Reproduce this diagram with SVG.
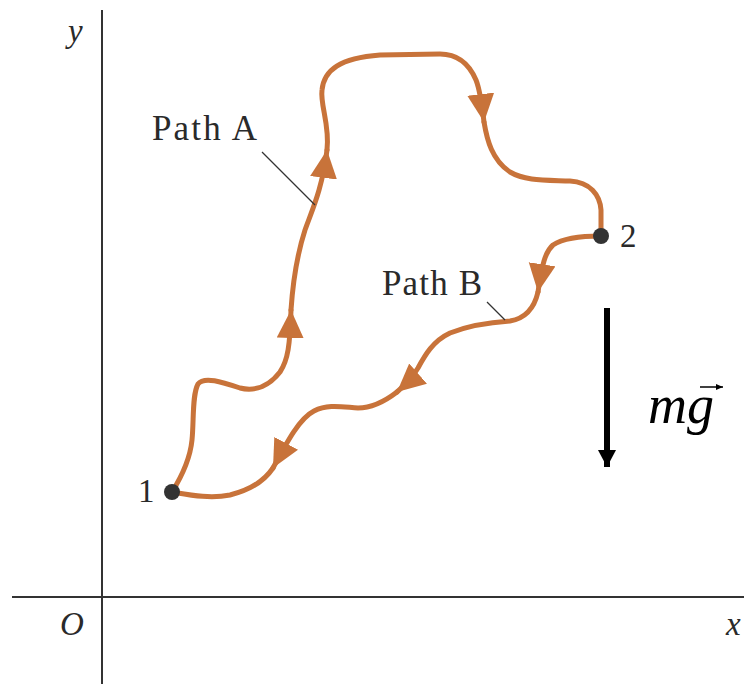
<svg xmlns="http://www.w3.org/2000/svg" width="744" height="684" viewBox="0 0 744 684">
<style>
.axis{stroke:#333;stroke-width:2;fill:none}
.path{stroke:#C8733A;stroke-width:5;fill:none;stroke-linecap:round;stroke-linejoin:round}
.lead{stroke:#333;stroke-width:1.2;fill:none}
.lbl{font-family:"Liberation Serif",serif;font-size:35px;fill:#2a2a2a}
.num{font-family:"Liberation Serif",serif;font-size:33px;fill:#2a2a2a}
.it{font-family:"Liberation Serif",serif;font-style:italic;font-size:33px;fill:#2a2a2a}
.pt{fill:#333}
</style>
<defs>
<marker id="ah" markerUnits="userSpaceOnUse" markerWidth="30" markerHeight="28" refX="28" refY="13.5" orient="auto">
<path d="M0,0 L28,13.5 L0,27 z" fill="#C8733A"/>
</marker>
<marker id="gh" markerUnits="userSpaceOnUse" markerWidth="18" markerHeight="20" refX="17" refY="9" orient="auto">
<path d="M0,0 L17,9 L0,18 z" fill="#000"/>
</marker>
<marker id="vh" markerUnits="userSpaceOnUse" markerWidth="8" markerHeight="8" refX="7" refY="3" orient="auto">
<path d="M0,0 L7,3 L0,6 z" fill="#000"/>
</marker>
</defs>

<g id="axes">
<line class="axis" x1="102" y1="10" x2="102" y2="684"/>
<line class="axis" x1="12" y1="597" x2="744" y2="597"/>
<text class="it" x="68" y="42">y</text>
<text class="it" x="60" y="635">O</text>
<text class="it" x="726" y="635">x</text>
</g>

<g id="connectors">
<g id="pathA">
<path class="path" marker-end="url(#ah)" d="M172,492 C182,476 190,460 192,440 C194,420 192,395 198,384 C204,376 222,382 240,388 C256,392 270,385 280,372 C288,360 290,345 291,310"/>
<path class="path" marker-end="url(#ah)" d="M291,310 C293,280 297,255 305,230 C312,210 322,190 327,150"/>
<path class="path" marker-end="url(#ah)" d="M327,150 C330,125 320,105 322,90 C324,70 340,58 380,55 L440,54 C460,54 470,66 476,80 C480,90 482,105 484,122"/>
<path class="path" d="M484,122 C487,140 492,160 510,172 C525,181 545,180 570,181 C590,182 600,195 601,210 L601,236"/>
</g>
<g id="pathB">
<path class="path" marker-end="url(#ah)" d="M601,236 C585,236 565,237 553,245 C545,252 542,265 538,292"/>
<path class="path" marker-end="url(#ah)" d="M538,292 C535,305 528,318 510,321 C495,322 470,325 450,333 C433,341 425,355 418,368 C412,378 405,385 397,392"/>
<path class="path" marker-end="url(#ah)" d="M397,392 C384,402 372,408 358,408 C342,407 328,404 314,411 C300,418 288,440 273,468"/>
<path class="path" d="M273,468 C265,480 250,490 230,495 C210,499 190,495 172,492"/>
</g>
<line class="lead" x1="262" y1="152" x2="315" y2="205"/>
<line class="lead" x1="487" y1="302" x2="505" y2="320"/>
</g>

<g id="labelA"><text class="lbl" x="152" y="140" textLength="105" lengthAdjust="spacing">Path A</text></g>
<g id="labelB"><text class="lbl" x="382" y="295" textLength="100" lengthAdjust="spacing">Path B</text></g>

<g id="point1">
<circle class="pt" cx="172" cy="492" r="8"/>
<text class="num" x="138" y="502">1</text>
</g>
<g id="point2">
<circle class="pt" cx="601" cy="236" r="8"/>
<text class="num" x="620" y="247">2</text>
</g>

<g id="gravity">
<line x1="607" y1="308" x2="607" y2="467" stroke="#000" stroke-width="6" marker-end="url(#gh)"/>
<text x="648" y="423" font-family="Liberation Serif, serif" font-style="italic" font-size="54" fill="#000">mg</text>
<line x1="700" y1="387" x2="723" y2="387" stroke="#000" stroke-width="1.5" marker-end="url(#vh)"/>
</g>
</svg>
